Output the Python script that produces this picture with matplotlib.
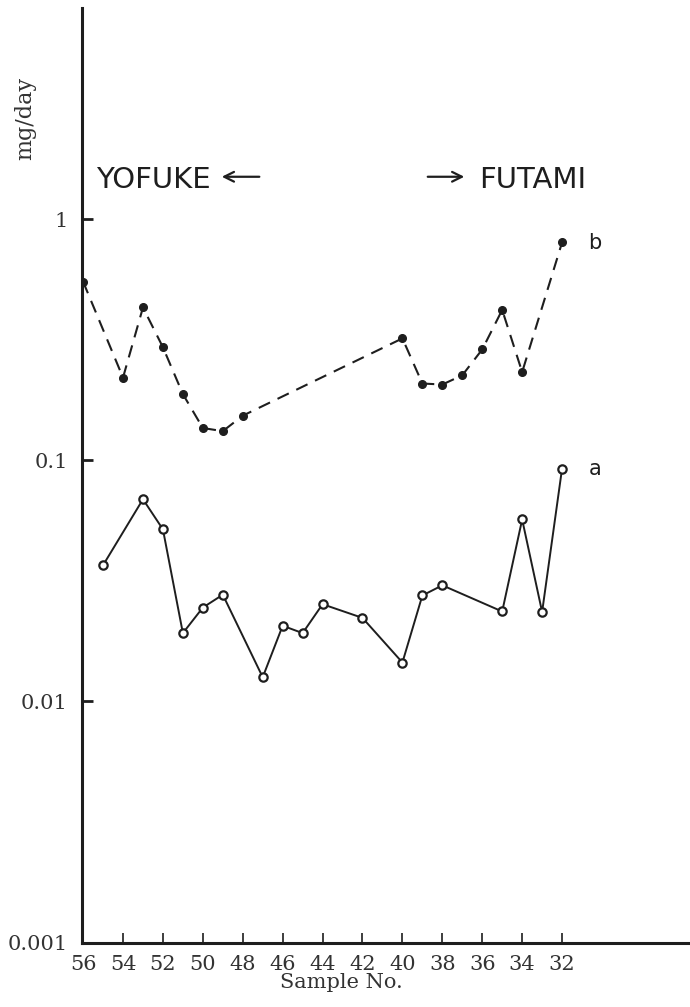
import matplotlib
matplotlib.use('Agg')
import matplotlib.pyplot as plt

# Sample numbers and daily amounts (mg/day)
sample_b = [56, 54, 53, 52, 51, 50, 49, 48, 40, 39, 38, 37, 36, 35, 34, 32]
value_b = [0.55, 0.22, 0.43, 0.294, 0.188, 0.136, 0.132, 0.153,
           0.32, 0.208, 0.206, 0.225, 0.288, 0.42, 0.232, 0.80]

sample_a = [55, 53, 52, 51, 50, 49, 47, 46, 45, 44, 42, 40, 39, 38, 35, 34, 33, 32]
value_a = [0.0367, 0.0689, 0.0517, 0.0192, 0.0245, 0.0277, 0.0126, 0.0206, 0.0192,
           0.0253, 0.0222, 0.0145, 0.0275, 0.0303, 0.0236, 0.0568, 0.0235, 0.0924]

x_ticks = list(range(56, 31, -2))
y_ticks = [0.001, 0.01, 0.1, 1]
y_tick_labels = ['0.001', '0.01', '0.1', '1']

ink = '#1e1e1e'
serif = 'DejaVu Serif'

fig = plt.figure(figsize=(6.9, 10.07), dpi=100)
ax = fig.add_axes([0.1184, 0.0639, 0.8816, 0.9282])

ax.set_yscale('log')
ax.set_xlim(56.07, 25.59)
ax.set_ylim(0.001, 7.5)

# Series b: dashed line with filled dots
ax.plot(sample_b, value_b, color=ink, lw=1.5, ls=(0, (6, 4)),
        marker='o', ms=5.5, mfc=ink, mec=ink)

# Series a: solid line with open circles
ax.plot(sample_a, value_a, color=ink, lw=1.4, ls='-',
        marker='o', ms=6, mfc='white', mec=ink, mew=1.6)

ax.text(30.70, 0.797, 'b', color=ink, fontsize=15, va='center', ha='left')
ax.text(30.65, 0.092, 'a', color=ink, fontsize=15, va='center', ha='left')

# Location labels with arrows
ax.text(55.35, 1.45, 'YOFUKE', color=ink, fontsize=21, va='center', ha='left')
ax.annotate('', xy=(49.19, 1.497), xytext=(47.03, 1.497),
            arrowprops=dict(arrowstyle='->,head_length=0.7,head_width=0.35',
                            color=ink, lw=1.6))
ax.annotate('', xy=(36.76, 1.497), xytext=(38.87, 1.497),
            arrowprops=dict(arrowstyle='->,head_length=0.7,head_width=0.35',
                            color=ink, lw=1.6))
ax.text(36.16, 1.45, 'FUTAMI', color=ink, fontsize=21, va='center', ha='left')

for side in ['top', 'right']:
    ax.spines[side].set_visible(False)
for side in ['left', 'bottom']:
    ax.spines[side].set_linewidth(2.2)
    ax.spines[side].set_color(ink)

ax.set_xticks(x_ticks)
ax.set_xticklabels([str(t) for t in x_ticks], fontfamily=serif, fontsize=15, color='#333333')
ax.set_yticks(y_ticks)
ax.set_yticklabels(y_tick_labels, fontfamily=serif, fontsize=15, color='#333333')
ax.minorticks_off()
ax.tick_params(axis='x', direction='in', length=7, width=1.2, color=ink, pad=9)
ax.tick_params(axis='y', direction='in', length=8, width=2, color=ink, pad=10)

fig.text(341 / 690, 1 - 983 / 1007, 'Sample No.', fontfamily=serif, fontsize=15,
         color='#333333', ha='center', va='center')
fig.text(25 / 690, 1 - 118 / 1007, 'mg/day', fontfamily=serif, fontsize=16,
         color='#333333', ha='center', va='center', rotation=90)

fig.savefig('out.png', dpi=100, facecolor='white')
plt.close(fig)
